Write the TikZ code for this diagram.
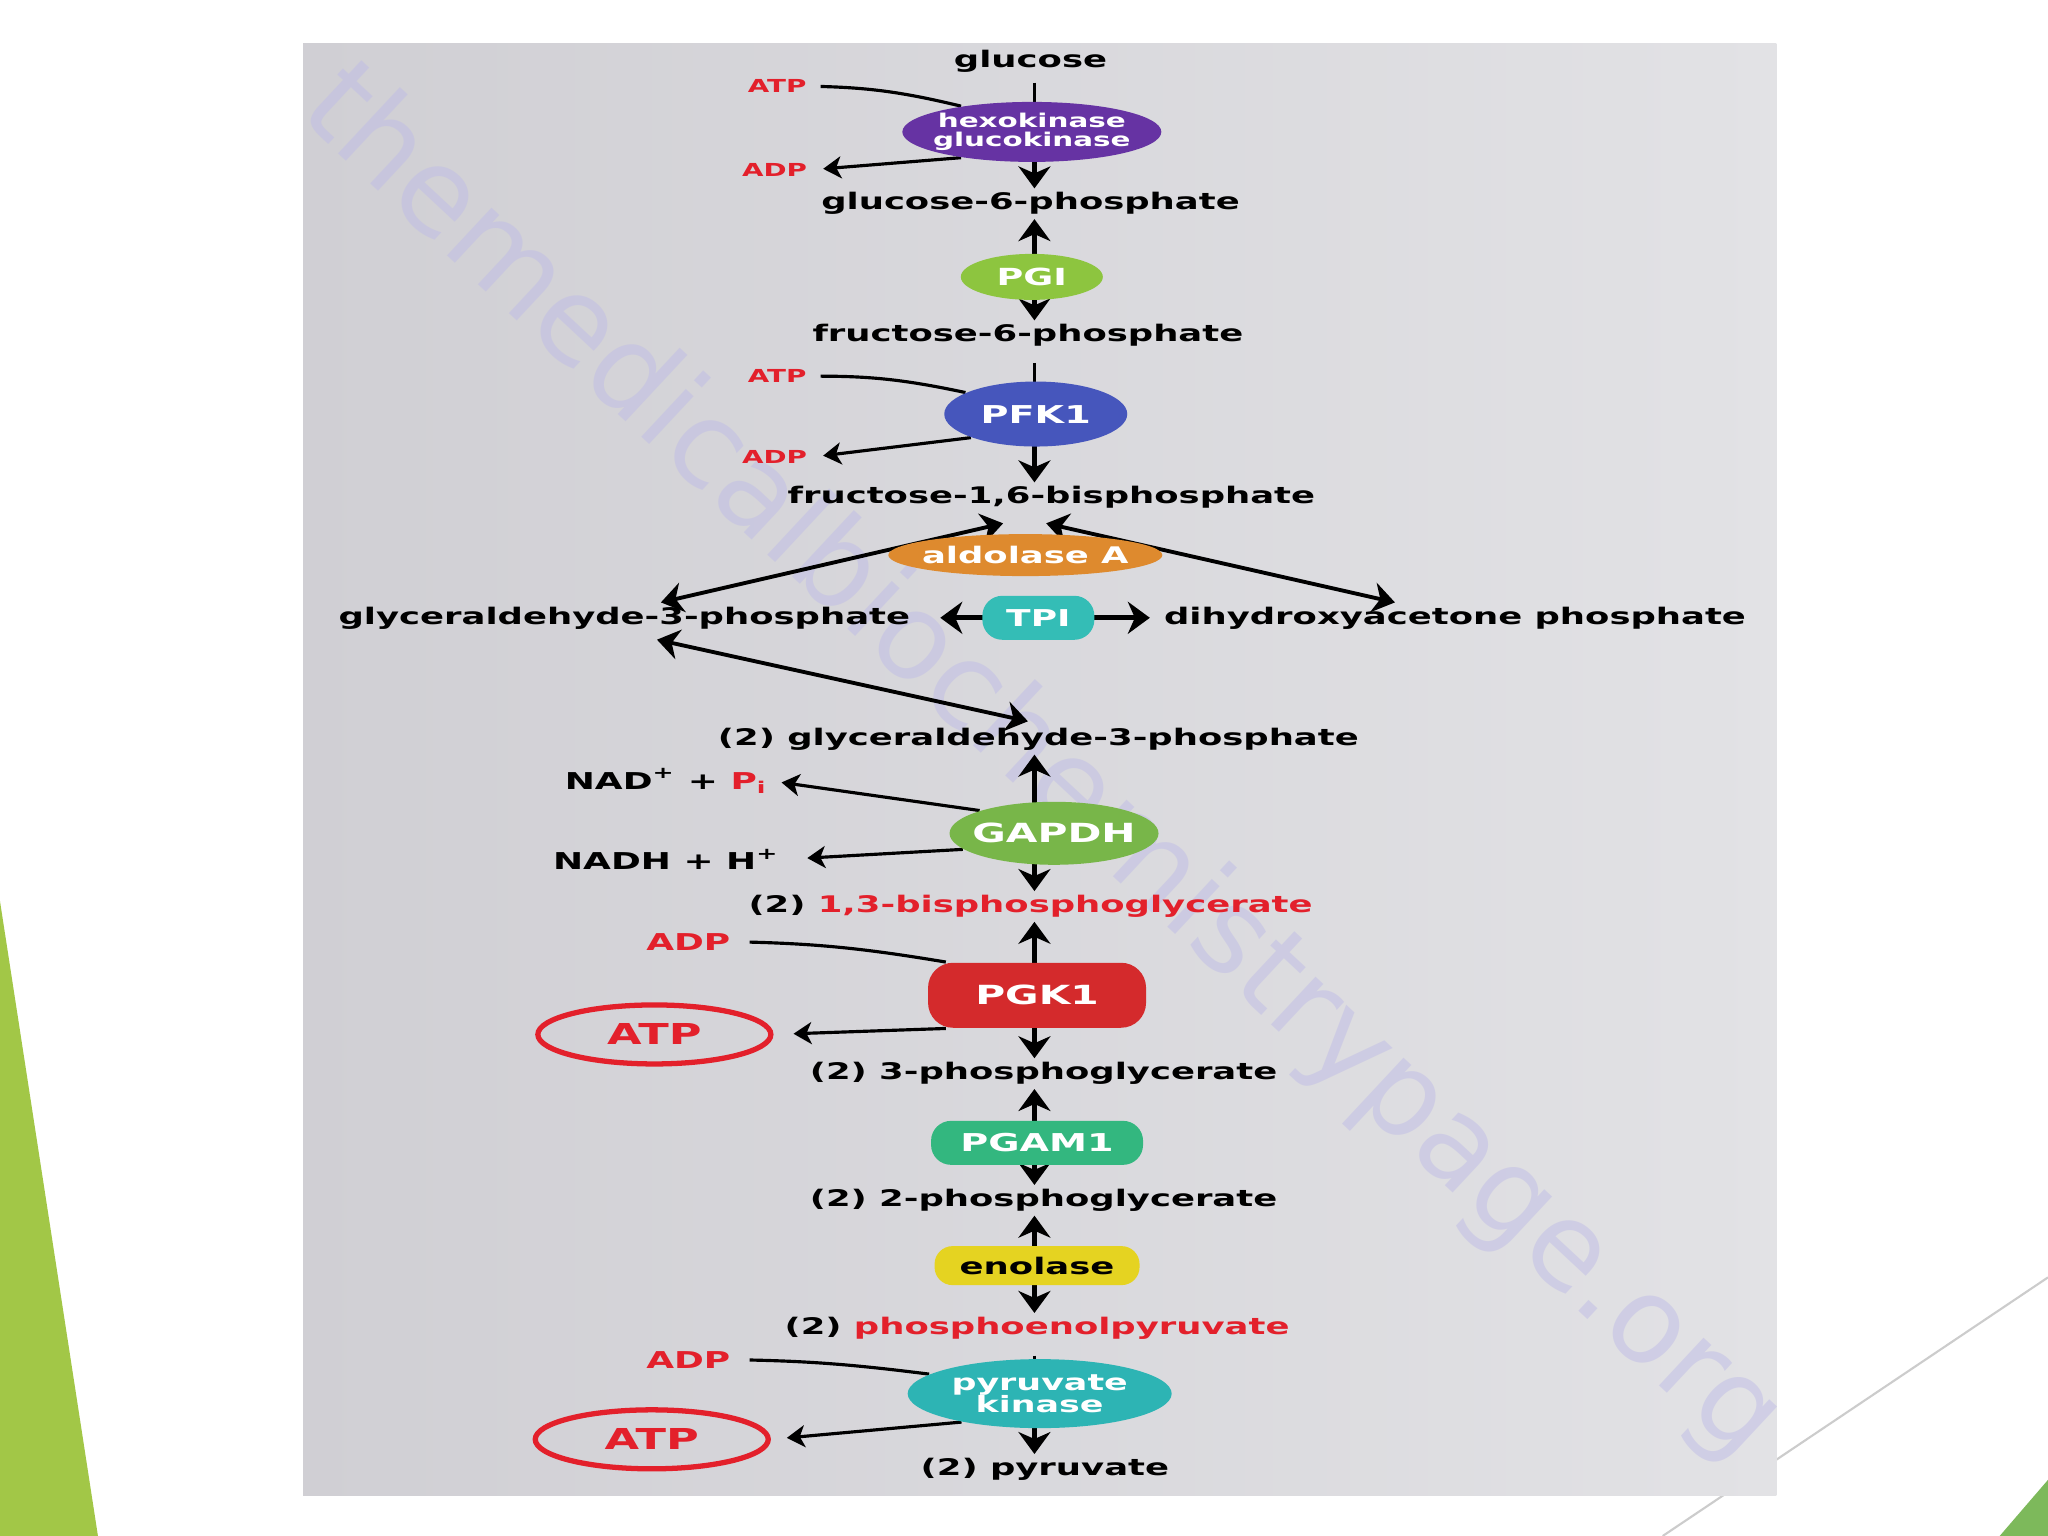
\documentclass[tikz,border=0pt]{standalone}
\usepackage{fontspec}
\setmainfont{DejaVu Sans}
\newfontfamily\widefont{DejaVu Sans}[FakeStretch=1.55]
\usetikzlibrary{shapes.geometric, arrows.meta, calc}
\newcommand{\lblfont}[1]{\widefont\fontsize{#1}{#1}\selectfont\bfseries}
\definecolor{txtred}{HTML}{E3202B}
\definecolor{hkpurple}{HTML}{6633A3}
\definecolor{pgigreen}{HTML}{8DC53F}
\definecolor{pfkblue}{HTML}{4656BC}
\definecolor{aldorange}{HTML}{DE8A2E}
\definecolor{tpiteal}{HTML}{34BDB6}
\definecolor{gapdhgreen}{HTML}{78B649}
\definecolor{pgkred}{HTML}{D42A2C}
\definecolor{pgamgreen}{HTML}{33B77F}
\definecolor{enoyellow}{HTML}{E5D321}
\definecolor{pkteal}{HTML}{2DB4B4}
\definecolor{slidegreen}{HTML}{A2C747}
\definecolor{cornergreen}{HTML}{7DB95B}
\definecolor{panelleft}{HTML}{D0CFD4}
\definecolor{panelright}{HTML}{E2E2E5}
\definecolor{markcolor}{HTML}{BFBCE6}
\pgfdeclarelayer{back}
\pgfdeclarelayer{wires}
\pgfsetlayers{back,wires,main}

\begin{document}
\begin{tikzpicture}[
    x=0.013062cm, y=-0.013062cm,
    metab/.style={font=\lblfont{6.5}, inner sep=1pt},
    cof/.style={font=\lblfont{5.1}, text=txtred, inner sep=1pt},
    cofbig/.style={font=\lblfont{6.6}, inner sep=1pt},
    blob/.style={ellipse, inner sep=0pt},
    pill/.style={rectangle, inner sep=0pt},
    enz/.style={font=\lblfont{7}, text=white, align=center, inner sep=0pt},
    atpring/.style={ellipse, draw=txtred, line width=1.5pt, text=txtred, font=\lblfont{8.2}, minimum width=2.33cm, minimum height=0.59cm, inner sep=1pt},
    arr/.style={-{Stealth[length=2.2mm, width=3.2mm, inset=0.7mm]}, line width=1.4pt},
    darr/.style={{Stealth[length=2.2mm, width=3mm, inset=0.7mm]}-{Stealth[length=2.2mm, width=3mm, inset=0.7mm]}, line width=1.1pt},
    sarr/.style={-{Stealth[length=1.8mm, width=2.2mm, inset=0.5mm]}, line width=0.9pt},
    link/.style={line width=0.9pt},
]
    \useasboundingbox (0,0) rectangle (1568,1176);
    % slide and panel
    \begin{pgfonlayer}{back}
        \fill[white] (0,0) rectangle (1568,1176);
        \fill[slidegreen] (0,690) -- (75,1176) -- (0,1176) -- cycle;
        \draw[black!20, line width=0.6pt] (1273,1176) -- (1568,978);
        \fill[cornergreen] (1531,1176) -- (1568,1133) -- (1568,1176) -- cycle;
        \shade[left color=panelleft, right color=panelright] (232,33) rectangle (1360,1145);
        \begin{scope}
            \clip (232,33) rectangle (1360,1145);
            \node[text=markcolor, opacity=0.5, rotate=-43, font=\fontsize{34}{34}\selectfont] (wmark) at (797,585) {themedicalbiochemistrypage.org};
        \end{scope}
    \end{pgfonlayer}
    \coordinate (axis) at (792,0);

    % metabolites
    \node[metab] (glc)   at (789,47)   {glucose};
    \node[metab] (g6p)   at (789,156)  {glucose-6-phosphate};
    \node[metab] (f6p)   at (787,257)  {fructose-6-phosphate};
    \node[metab] (f16bp) at (805,381)  {fructose-1,6-bisphosphate};
    \node[metab] (g3p)   at (478,473)  {glyceraldehyde-3-phosphate};
    \node[metab] (dhap)  at (1114,473) {dihydroxyacetone phosphate};
    \node[metab] (g3pb)  at (795,566)  {(2) glyceraldehyde-3-phosphate};
    \node[metab] (bpg)   at (789,694)  {(2) \textcolor{txtred}{1,3-bisphosphoglycerate}};
    \node[metab] (pg3)   at (799,822)  {(2) 3-phosphoglycerate};
    \node[metab] (pg2)   at (799,919)  {(2) 2-phosphoglycerate};
    \node[metab] (pep)   at (794,1017) {(2) \textcolor{txtred}{phosphoenolpyruvate}};
    \node[metab] (pyr)   at (800,1125) {(2) pyruvate};

    % enzymes
    \node[blob, fill=hkpurple, minimum width=2.59cm, minimum height=0.6cm,
        label={[enz, font=\lblfont{5.4}]center:hexokinase\\glucokinase}] (hk) at (790,101) {};
    \node[blob, fill=pgigreen, minimum width=1.42cm, minimum height=0.46cm,
        label={[enz, font=\lblfont{6.7}]center:PGI}] (pgi) at (790,212) {};
    \node[blob, fill=pfkblue, minimum width=1.83cm, minimum height=0.65cm,
        label={[enz]center:PFK1}] (pfk) at (793,317) {};
    \node[blob, fill=aldorange, minimum width=2.74cm, minimum height=0.42cm,
        label={[enz, font=\lblfont{6.5}]center:aldolase A}] (ald) at (785,425) {};
    \node[pill, fill=tpiteal, rounded corners=0.2cm, minimum width=1.12cm, minimum height=0.44cm,
        label={[enz, font=\lblfont{6.6}]center:TPI}] (tpi) at (795,473) {};
    \node[blob, fill=gapdhgreen, minimum width=2.09cm, minimum height=0.63cm,
        label={[enz, font=\lblfont{7.5}]center:GAPDH}] (gapdh) at (807,638) {};
    \node[pill, fill=pgkred, rounded corners=0.25cm, minimum width=2.18cm, minimum height=0.65cm,
        label={[enz, font=\lblfont{7.5}]center:PGK1}] (pgk) at (794,762) {};
    \node[pill, fill=pgamgreen, rounded corners=0.2cm, minimum width=2.12cm, minimum height=0.44cm,
        label={[enz]center:PGAM1}] (pgam) at (794,875) {};
    \node[pill, fill=enoyellow, rounded corners=0.18cm, minimum width=2.05cm, minimum height=0.39cm,
        label={[enz, font=\lblfont{6.5}, text=black]center:enolase}] (eno) at (794,969) {};
    \node[blob, fill=pkteal, minimum width=2.64cm, minimum height=0.69cm,
        label={[enz, font=\lblfont{6.4}]center:pyruvate\\kinase}] (pk) at (796,1067) {};

    % cofactors
    \node[cof] (atp1) at (595,66)  {ATP};
    \node[cof] (adp1) at (593,130) {ADP};
    \node[cof] (atp2) at (595,288) {ATP};
    \node[cof] (adp2) at (593,350) {ADP};
    \node[cofbig] (nad)  at (510,598) {NAD\textsuperscript{+} + \textcolor{txtred}{P\textsubscript{i}}};
    \node[cofbig] (nadh) at (510,658) {NADH + H\textsuperscript{+}};
    \node[cofbig, text=txtred] (adp3) at (527,721)  {ADP};
    \node[atpring] (atp3) at (501,792) {ATP};
    \node[cofbig, text=txtred] (adp4) at (527,1041) {ADP};
    \node[atpring] (atp4) at (499,1102) {ATP};

    \begin{pgfonlayer}{wires}
        % main axis
        \draw[link, shorten <=0.6mm] (glc.south -| axis) -- (hk.center -| axis);
        \draw[arr] (hk.center -| axis) -- (axis |- g6p.north);
        \draw[link, shorten <=1.2mm] (f6p.south -| axis) -- (pfk.center -| axis);
        \draw[arr] (pfk.center -| axis) -- (axis |- f16bp.north);
        \foreach \e/\up/\dn in {pgi/g6p/f6p, gapdh/g3pb/bpg, pgk/bpg/pg3, pgam/pg3/pg2, eno/pg2/pep} {
            \draw[arr] (\e.center -| axis) -- (axis |- \up.south);
            \draw[arr] (\e.center -| axis) -- (axis |- \dn.north);
        }
        \draw[link, shorten <=1.2mm] (pep.south -| axis) -- (pk.center -| axis);
        \draw[arr] (pk.center -| axis) -- (axis |- pyr.north);
        % aldolase and TPI
        \draw[darr] ($(g3p.north)+(28,0)$) -- ($(f16bp.south)+(-37,8)$);
        \draw[darr] ($(dhap.north)+(-46,0)$) -- ($(f16bp.south)+(-4,8)$);
        \draw[arr, shorten >=2.6mm] (tpi.center) -- (g3p.east);
        \draw[arr, shorten >=1mm] (tpi.center) -- (dhap.west);
        \draw[darr] ($(g3p.south)+(25,5)$) -- ($(g3pb.north)+(-8,-2)$);
        % side reactions
        \draw[link, shorten <=1mm] (atp1.east) to[bend left=6] (hk.160);
        \draw[sarr, shorten >=1.2mm] (hk.200) -- (adp1.east);
        \draw[link, shorten <=1mm] (atp2.east) to[bend left=6] (pfk.163);
        \draw[sarr, shorten >=1.2mm] (pfk.200) -- (adp2.east);
        \draw[sarr, shorten >=1mm] (gapdh.163) -- (nad.east);
        \draw[sarr, shorten >=2.4mm] (gapdh.190) -- (nadh.east);
        \draw[link, shorten <=1.5mm] (adp3.east) to[bend left=4] (pgk.160);
        \draw[sarr, shorten >=2mm] (pgk.200) -- (atp3.east);
        \draw[link, shorten <=1.5mm] (adp4.east) to[bend left=3] (pk.170);
        \draw[sarr, shorten >=1.6mm] (pk.200) -- (atp4.east);
    \end{pgfonlayer}
\end{tikzpicture}
\end{document}
